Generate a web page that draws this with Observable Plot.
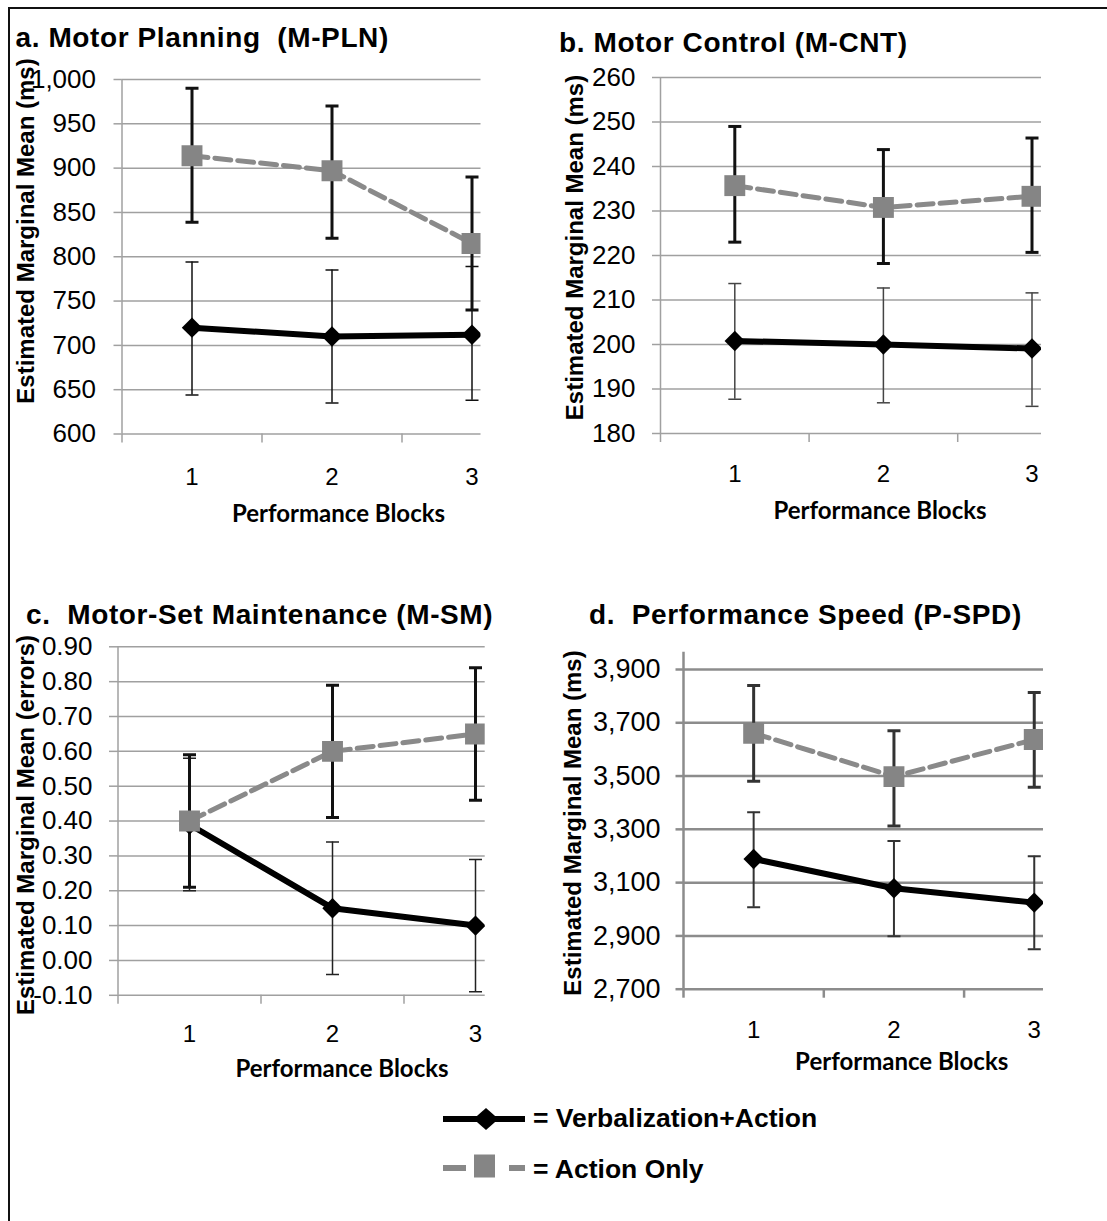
<!DOCTYPE html>
<html>
<head>
<meta charset="utf-8">
<script src="https://cdn.jsdelivr.net/npm/d3@7"></script>
<script src="https://cdn.jsdelivr.net/npm/@observablehq/plot@0.6"></script>
<style>
html, body { margin: 0; padding: 0; background: #fff; }
#wrap { position: relative; width: 1107px; height: 1221px; overflow: hidden; background: #fff; }
#wrap svg { position: absolute; left: 0; top: 0; }
</style>
</head>
<body>
<div id="wrap"></div>
<script>
// ---------------- DATA ----------------
const blocks = [1, 2, 3];
const seriesNames = ["Verbalization+Action", "Action Only"];

// a. Motor Planning (ms)
const mplnVerbal   = [720, 710, 712];
const mplnVerbalLo = [644, 635, 638];
const mplnVerbalHi = [794, 785, 789];
const mplnAction   = [914, 897, 815];
const mplnActionLo = [839, 821, 740];
const mplnActionHi = [990, 970, 890];
const mplnTicks = [600, 650, 700, 750, 800, 850, 900, 950, 1000];

// b. Motor Control (ms)
const mcntVerbal   = [200.8, 200.0, 199.1];
const mcntVerbalLo = [187.7, 186.9, 186.1];
const mcntVerbalHi = [213.7, 212.7, 211.6];
const mcntAction   = [235.7, 230.8, 233.3];
const mcntActionLo = [223.0, 218.2, 220.7];
const mcntActionHi = [249.0, 243.8, 246.4];
const mcntTicks = [180, 190, 200, 210, 220, 230, 240, 250, 260];

// c. Motor-Set Maintenance (errors)
const msmVerbal   = [0.39, 0.15, 0.10];
const msmVerbalLo = [0.20, -0.04, -0.09];
const msmVerbalHi = [0.58, 0.34, 0.29];
const msmAction   = [0.40, 0.60, 0.65];
const msmActionLo = [0.21, 0.41, 0.46];
const msmActionHi = [0.59, 0.79, 0.84];
const msmTicks = [-0.1, 0, 0.1, 0.2, 0.3, 0.4, 0.5, 0.6, 0.7, 0.8, 0.9];

// d. Performance Speed (ms)
const pspdVerbal   = [3189, 3079, 3025];
const pspdVerbalLo = [3008, 2899, 2850];
const pspdVerbalHi = [3364, 3256, 3199];
const pspdAction   = [3661, 3498, 3637];
const pspdActionLo = [3481, 3313, 3458];
const pspdActionHi = [3840, 3670, 3814];
const pspdTicks = [2700, 2900, 3100, 3300, 3500, 3700, 3900];

// ---------------- DRAWING ----------------
const W = 1107, H = 1221;
const FONT = "'Liberation Sans', Arial, sans-serif";
const wrap = document.getElementById("wrap");

const hbar = {
  draw(ctx, size) {
    const r = Math.sqrt(size / Math.PI);
    ctx.moveTo(-r, 0);
    ctx.lineTo(r, 0);
  }
};

function panel(p) {
  const rows = blocks.flatMap((b, i) => [
    {block: b, series: seriesNames[0], v: p.verbal[i], lo: p.verbalLo[i], hi: p.verbalHi[i]},
    {block: b, series: seriesNames[1], v: p.action[i], lo: p.actionLo[i], hi: p.actionHi[i]}
  ]);
  const V = rows.filter(d => d.series === seriesNames[0]);
  const A = rows.filter(d => d.series === seriesNames[1]);
  const errMarks = (data, color, width) => [
    Plot.ruleX(data, {x: "block", y1: "lo", y2: "hi", stroke: color, strokeWidth: width, clip: true}),
    Plot.dot(data, {x: "block", y: "lo", symbol: hbar, r: 6.5, fill: "none", stroke: color, strokeWidth: width, clip: true}),
    Plot.dot(data, {x: "block", y: "hi", symbol: hbar, r: 6.5, fill: "none", stroke: color, strokeWidth: width, clip: true})
  ];
  const svg = Plot.plot({
    width: W, height: H,
    marginLeft: p.fL, marginRight: W - p.fR, marginTop: p.fT, marginBottom: H - p.fB,
    style: {background: "transparent", overflow: "visible"},
    x: {type: "linear", domain: [0.5, 3.5], range: [p.x0, p.x0 + 3 * p.step], axis: null},
    y: {domain: [p.ticks[0], p.ticks[p.ticks.length - 1]], range: [p.fB, p.yTop], axis: null},
    marks: [
      Plot.gridY(p.ticks, {stroke: p.grid, strokeOpacity: 1, strokeWidth: p.gridW}),
      Plot.ruleX([0.5], {stroke: p.grid, strokeWidth: p.gridW}),
      Plot.axisY(p.ticks, {tickSize: 8, tickPadding: p.tp, stroke: p.grid, strokeWidth: p.gridW,
        fill: "#000", fontSize: p.fs, fontFamily: FONT, tickFormat: p.fmt, label: null}),
      Plot.axisX([0.5, 1.5, 2.5], {tickSize: 9, stroke: p.grid, strokeWidth: p.gridW, fill: "none", label: null}),
      Plot.axisX(blocks, {tickSize: 0, tickPadding: p.xp, fill: "#000", fontSize: 24, fontFamily: FONT,
        tickFormat: d => String(d), label: null}),
      ...errMarks(V, p.thinC, p.thinW),
      ...errMarks(A, p.thickC, p.thickW),
      Plot.line(V, {x: "block", y: "v", stroke: "#000", strokeWidth: 6, clip: true}),
      Plot.dot(V, {x: "block", y: "v", symbol: "diamond2", r: 9.2, fill: "#000", stroke: "none", clip: true}),
      Plot.line(A, {x: "block", y: "v", stroke: "#8a8a8a", strokeWidth: 5, strokeDasharray: "16,7", clip: true}),
      Plot.dot(A, {x: "block", y: "v", symbol: "square", r: 11.8, fill: "#858585", stroke: "none", clip: true})
    ]
  });
  wrap.appendChild(svg);
}

const fmtComma = d3.format(",");
const fmt2 = d => d.toFixed(2);

panel({verbal: mplnVerbal, verbalLo: mplnVerbalLo, verbalHi: mplnVerbalHi,
  action: mplnAction, actionLo: mplnActionLo, actionHi: mplnActionHi, ticks: mplnTicks,
  fL: 121.5, fR: 480.5, fT: 79, yTop: 79, fB: 433.5, x0: 121.5, step: 140,
  grid: "#a0a0a0", gridW: 1.5, tp: 18, fs: 26, fmt: fmtComma, xp: 34,
  thinC: "#111", thinW: 1.5, thickC: "#111", thickW: 3});

panel({verbal: mcntVerbal, verbalLo: mcntVerbalLo, verbalHi: mcntVerbalHi,
  action: mcntAction, actionLo: mcntActionLo, actionHi: mcntActionHi, ticks: mcntTicks,
  fL: 660, fR: 1041, fT: 77, yTop: 77, fB: 433, x0: 660, step: 148.6,
  grid: "#a0a0a0", gridW: 1.5, tp: 17, fs: 26, fmt: d => String(d), xp: 31,
  thinC: "#444", thinW: 1.5, thickC: "#111", thickW: 3});

panel({verbal: msmVerbal, verbalLo: msmVerbalLo, verbalHi: msmVerbalHi,
  action: msmAction, actionLo: msmActionLo, actionHi: msmActionHi, ticks: msmTicks,
  fL: 117, fR: 484.7, fT: 646.3, yTop: 646.3, fB: 994.8, x0: 117.5, step: 143,
  grid: "#a0a0a0", gridW: 1.5, tp: 17, fs: 26, fmt: fmt2, xp: 30,
  thinC: "#222", thinW: 1.5, thickC: "#111", thickW: 3});

panel({verbal: pspdVerbal, verbalLo: pspdVerbalLo, verbalHi: pspdVerbalHi,
  action: pspdAction, actionLo: pspdActionLo, actionHi: pspdActionHi, ticks: pspdTicks,
  fL: 683.5, fR: 1043, fT: 651.7, yTop: 669, fB: 988.7, x0: 683, step: 140.3,
  grid: "#8c8c8c", gridW: 2.5, tp: 15.5, fs: 27, fmt: fmtComma, xp: 32,
  thinC: "#333", thinW: 2, thickC: "#333", thickW: 3});

// ---------------- TEXT, LEGEND, FRAME ----------------
const ov = d3.select(wrap).append("svg")
  .attr("width", W).attr("height", H)
  .attr("font-family", FONT);

// frame lines (top and left)
ov.append("rect").attr("x", 8).attr("y", 7).attr("width", W - 8).attr("height", 2).attr("fill", "#111");
ov.append("rect").attr("x", 8).attr("y", 7).attr("width", 2).attr("height", H - 7).attr("fill", "#111");

const titles = [
  {t: "a. Motor Planning  (M-PLN)", x: 15.5, y: 47},
  {t: "b. Motor Control (M-CNT)", x: 559, y: 52},
  {t: "c.  Motor-Set Maintenance (M-SM)", x: 26, y: 623.5},
  {t: "d.  Performance Speed (P-SPD)", x: 589, y: 623.5}
];
ov.selectAll("text.title").data(titles).join("text")
  .attr("class", "title")
  .attr("x", d => d.x).attr("y", d => d.y)
  .attr("font-size", 28).attr("font-weight", "bold")
  .attr("letter-spacing", 0.6)
  .style("white-space", "pre")
  .text(d => d.t);

const ylabels = [
  {t: "Estimated Marginal Mean (ms)", x: 25.4, y: 231},
  {t: "Estimated Marginal Mean (ms)", x: 574, y: 247.5},
  {t: "Estimated Marginal Mean (errors)", x: 25.4, y: 825},
  {t: "Estimated Marginal Mean (ms)", x: 572, y: 823}
];
ov.selectAll("text.ylab").data(ylabels).join("text")
  .attr("class", "ylab")
  .attr("transform", d => `translate(${d.x},${d.y}) rotate(-90)`)
  .attr("text-anchor", "middle")
  .attr("dominant-baseline", "central")
  .attr("font-size", 24).attr("font-weight", "bold")
  .text(d => d.t);

const xlabels = [
  {x: 338.5, y: 521.5}, {x: 880, y: 518.5}, {x: 342, y: 1076.5}, {x: 901.7, y: 1070}
];
ov.selectAll("text.xlab").data(xlabels).join("text")
  .attr("class", "xlab")
  .attr("x", d => d.x).attr("y", d => d.y)
  .attr("text-anchor", "middle")
  .attr("font-family", "Lato, 'Open Sans', sans-serif")
  .attr("font-size", 24).attr("font-weight", "bold")
  .text("Performance Blocks");

// legend
const lg = ov.append("g");
lg.append("line").attr("x1", 443).attr("x2", 525).attr("y1", 1119).attr("y2", 1119)
  .attr("stroke", "#000").attr("stroke-width", 6);
lg.append("path").attr("d", "M486,1108L498.5,1119L486,1130L473.5,1119Z").attr("fill", "#000");
lg.append("text").attr("x", 533).attr("y", 1127).attr("font-size", 26.5).attr("font-weight", "bold")
  .text("= " + seriesNames[0]);
lg.append("line").attr("x1", 443).attr("x2", 466).attr("y1", 1168).attr("y2", 1168)
  .attr("stroke", "#888").attr("stroke-width", 6);
lg.append("rect").attr("x", 474).attr("y", 1154.5).attr("width", 21).attr("height", 23).attr("fill", "#858585");
lg.append("line").attr("x1", 509).attr("x2", 525).attr("y1", 1168).attr("y2", 1168)
  .attr("stroke", "#888").attr("stroke-width", 6);
lg.append("text").attr("x", 533).attr("y", 1178).attr("font-size", 26.5).attr("font-weight", "bold")
  .text("= " + seriesNames[1]);
</script>
</body>
</html>
